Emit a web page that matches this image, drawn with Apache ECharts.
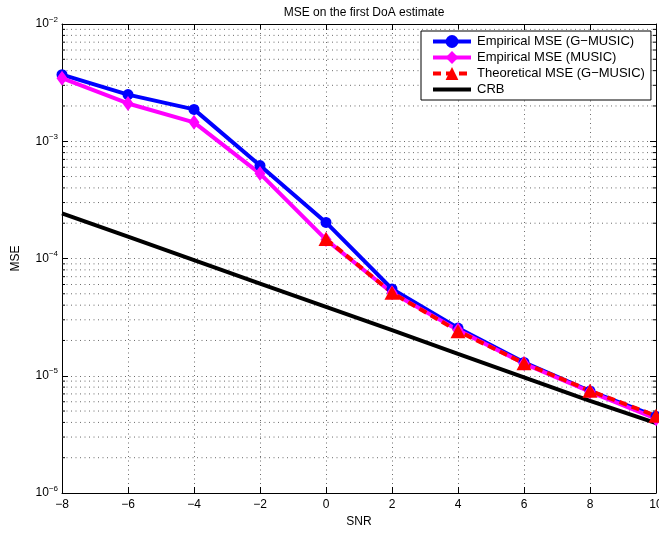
<!DOCTYPE html>
<html>
<head>
<meta charset="utf-8">
<script src="https://cdn.jsdelivr.net/npm/echarts@6/dist/echarts.min.js"></script>
<style>
  html, body { margin: 0; padding: 0; background: #fff; }
  #chart { width: 659px; height: 533px; }
</style>
</head>
<body>
<div id="chart"></div>
<script>
// SNR sweep (dB)
const snr = [-8, -6, -4, -2, 0, 2, 4, 6, 8, 10];

// Mean squared error of the first DoA estimate
const mseGMusic = [3.7e-3, 2.5e-3, 1.87e-3, 6.2e-4, 2.03e-4, 5.5e-5, 2.55e-5, 1.3e-5, 7.4e-6, 4.5e-6];
const mseMusic  = [3.45e-3, 2.1e-3, 1.45e-3, 5.3e-4, 1.45e-4, 5.1e-5, 2.45e-5, 1.27e-5, 7.3e-6, 4.3e-6];
const snrTheory = [0, 2, 4, 6, 8, 10];
const mseTheory = [1.47e-4, 5.1e-5, 2.4e-5, 1.28e-5, 7.45e-6, 4.55e-6];
const crb       = [2.43e-4, 1.54e-4, 9.7e-5, 6.1e-5, 3.87e-5, 2.45e-5, 1.54e-5, 9.7e-6, 6.1e-6, 3.95e-6];

// Axis ticks
const xTicks = [-8, -6, -4, -2, 0, 2, 4, 6, 8, 10];
const yDecades = [-6, -5, -4, -3, -2];
const minorMantissa = [2, 3, 4, 5, 6, 7, 8, 9];

const names = [
  'Empirical MSE (G\u2212MUSIC)',
  'Empirical MSE (MUSIC)',
  'Theoretical MSE (G\u2212MUSIC)',
  'CRB'
];

const pair = (xs, ys) => xs.map((x, i) => [x, ys[i]]);

// minor log positions (2..9 within every decade)
const minorVals = [];
yDecades.slice(0, -1).forEach(d => minorMantissa.forEach(m => minorVals.push(m * Math.pow(10, d))));

const font = 'Liberation Sans, Arial, Helvetica, sans-serif';
const dotted = { color: '#6b6b6b', width: 1, type: [1, 3.5] };

const chart = echarts.init(document.getElementById('chart'), null, { renderer: 'canvas' });

chart.setOption({
  animation: false,
  backgroundColor: '#ffffff',
  textStyle: { fontFamily: font },
  title: {
    text: 'MSE on the first DoA estimate',
    left: 359, top: 2, textAlign: 'center',
    textStyle: { fontFamily: font, fontSize: 12, fontWeight: 'normal', color: '#000' }
  },
  grid: { left: 62, right: 3, top: 24, bottom: 40, containLabel: false, outerBoundsMode: 'none' },
  legend: {
    data: names,
    orient: 'vertical',
    left: 421, top: 31,
    padding: [4, 6, 4, 10],
    itemWidth: 38, itemHeight: 16, itemGap: 3,
    backgroundColor: '#fff',
    borderColor: '#000', borderWidth: 1, borderRadius: 0,
    lineStyle: { width: 4 },
    textStyle: { fontFamily: font, fontSize: 13, color: '#000', padding: [0, 0, 0, 1] }
  },
  xAxis: [{
    type: 'value', min: -8, max: 10, interval: 2,
    name: 'SNR', nameLocation: 'middle', nameGap: 23,
    nameTextStyle: { fontFamily: font, fontSize: 12, color: '#000' },
    axisLine: { show: true, onZero: false, lineStyle: { color: '#000', width: 1 } },
    axisTick: { show: true, inside: true, length: 6, lineStyle: { color: '#000' } },
    axisLabel: {
      margin: 6, color: '#000', fontFamily: font, fontSize: 12,
      formatter: v => (v < 0 ? '\u2212' + (-v) : String(v))
    },
    splitLine: { show: true, lineStyle: dotted }
  }, {
    type: 'value', min: -8, max: 10, interval: 2, position: 'top',
    axisLine: { show: true, onZero: false, lineStyle: { color: '#000', width: 1 } },
    axisTick: { show: true, inside: true, length: 6, lineStyle: { color: '#000' } },
    axisLabel: { show: false },
    splitLine: { show: false }
  }],
  yAxis: [{
    type: 'log', logBase: 10, min: 1e-6, max: 1e-2,
    name: 'MSE', nameLocation: 'middle', nameGap: 40, nameRotate: 90,
    nameTextStyle: { fontFamily: font, fontSize: 12, color: '#000' },
    axisLine: { show: true, onZero: false, lineStyle: { color: '#000', width: 1 } },
    axisTick: { show: true, inside: true, length: 6, lineStyle: { color: '#000' } },
    axisLabel: {
      margin: 4, color: '#000', fontFamily: font,
      formatter: v => '{b|10}{s|\u2212' + (-Math.round(Math.log10(v))) + '}',
      rich: {
        b: { fontSize: 12, fontFamily: font, color: '#000', lineHeight: 14 },
        s: { fontSize: 8, fontFamily: font, color: '#000', lineHeight: 14, padding: [0, 0, 9, 0] }
      }
    },
    splitLine: { show: true, lineStyle: dotted }
  }, {
    type: 'log', logBase: 10, min: 1e-6, max: 1e-2, position: 'right',
    axisLine: { show: true, onZero: false, lineStyle: { color: '#000', width: 1 } },
    axisTick: { show: true, inside: true, length: 6, lineStyle: { color: '#000' } },
    axisLabel: { show: false },
    splitLine: { show: false }
  }],
  series: [
    {
      // minor log gridlines with inside ticks on both vertical sides
      type: 'custom',
      silent: true,
      z: 1,
      data: minorVals,
      encode: { y: 0 },
      renderItem: (params, api) => {
        const v = api.value(0);
        const a = api.coord([-8, v]);
        const b = api.coord([10, v]);
        return {
          type: 'group',
          children: [
            { type: 'line', shape: { x1: a[0], y1: a[1], x2: b[0], y2: b[1] }, style: { stroke: dotted.color, lineWidth: 1, lineDash: [1, 3.5] } },
            { type: 'line', shape: { x1: a[0], y1: a[1], x2: a[0] + 3, y2: a[1] }, style: { stroke: '#000', lineWidth: 1 } },
            { type: 'line', shape: { x1: b[0], y1: b[1], x2: b[0] - 3, y2: b[1] }, style: { stroke: '#000', lineWidth: 1 } }
          ]
        };
      }
    },
    {
      name: names[0], type: 'line', data: pair(snr, mseGMusic),
      symbol: 'circle', symbolSize: 11,
      lineStyle: { color: '#0000ff', width: 4 },
      itemStyle: { color: '#0000ff' }
    },
    {
      name: names[1], type: 'line', data: pair(snr, mseMusic),
      symbol: 'diamond', symbolSize: [11, 15],
      lineStyle: { color: '#ff00ff', width: 4 },
      itemStyle: { color: '#ff00ff' }
    },
    {
      name: names[2], type: 'line', data: pair(snrTheory, mseTheory),
      symbol: 'triangle', symbolSize: [15, 14],
      lineStyle: { color: '#ff0000', width: 4, type: [8, 5] },
      itemStyle: { color: '#ff0000' }
    },
    {
      // plain line; the transparent item colour keeps its legend entry marker-free
      name: names[3], type: 'line', data: pair(snr, crb),
      symbol: 'none',
      lineStyle: { color: '#000000', width: 4 },
      itemStyle: { color: 'rgba(0,0,0,0)' }
    }
  ]
});
</script>
</body>
</html>
